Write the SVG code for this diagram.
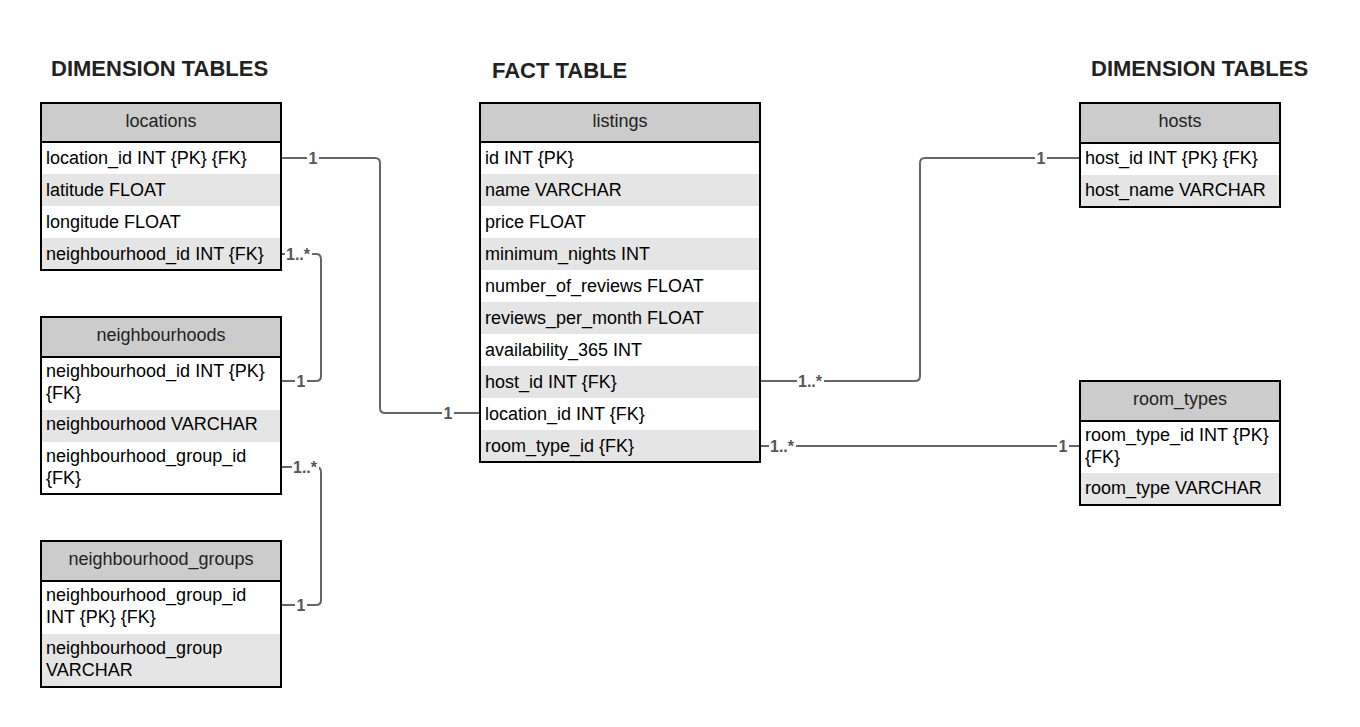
<svg xmlns="http://www.w3.org/2000/svg" width="1360" height="727" viewBox="0 0 1360 727">
<style>
.bg{fill:#fff}
.hd{fill:#cccccc}
.alt{fill:#e5e5e5}
.frame{fill:none;stroke:#000;stroke-width:2}
.sep{stroke:#000;stroke-width:2}
.t{font-family:"Liberation Sans",Arial,sans-serif;font-size:18px;fill:#000}
.h{font-family:"Liberation Sans",Arial,sans-serif;font-size:18px;fill:#222;text-anchor:middle}
.title{font-family:"Liberation Sans",Arial,sans-serif;font-size:22px;font-weight:bold;fill:#222}
.ln{fill:none;stroke:#666;stroke-width:2}
.lbg{fill:#fff}
.lb{font-family:"Liberation Sans",Arial,sans-serif;font-size:16px;font-weight:bold;fill:#555;text-anchor:middle}
</style>
<rect width="1360" height="727" fill="#fff"/>
<text class="title" x="51" y="76">DIMENSION TABLES</text>
<text class="title" x="492" y="78">FACT TABLE</text>
<text class="title" x="1091" y="76">DIMENSION TABLES</text>

<g id="connectors">
<path class="ln" d="M281 158 H375 Q380 158 380 163 V408 Q380 413 385 413 H479"/>
<path class="ln" d="M281 254 H316 Q321 254 321 259 V376 Q321 381 316 381 H281"/>
<path class="ln" d="M281 467 H316 Q321 467 321 472 V600 Q321 605 316 605 H281"/>
<path class="ln" d="M760 381 H915 Q920 381 920 376 V163 Q920 158 925 158 H1079"/>
<path class="ln" d="M760 446 H1080"/>
<rect class="lbg" x="307" y="150" width="12" height="16"/>
<rect class="lbg" x="442" y="405" width="12" height="16"/>
<rect class="lbg" x="285" y="246" width="27" height="16"/>
<rect class="lbg" x="295" y="373" width="12" height="16"/>
<rect class="lbg" x="292" y="459" width="27" height="16"/>
<rect class="lbg" x="295" y="597" width="12" height="16"/>
<rect class="lbg" x="797" y="373" width="27" height="16"/>
<rect class="lbg" x="1035" y="150" width="12" height="16"/>
<rect class="lbg" x="769" y="438" width="27" height="16"/>
<rect class="lbg" x="1057" y="438" width="12" height="16"/>
<text class="lb" x="313" y="164">1</text>
<text class="lb" x="448" y="419">1</text>
<text class="lb" x="298" y="260">1..*</text>
<text class="lb" x="301" y="387">1</text>
<text class="lb" x="305" y="473">1..*</text>
<text class="lb" x="301" y="611">1</text>
<text class="lb" x="810" y="387">1..*</text>
<text class="lb" x="1041" y="164">1</text>
<text class="lb" x="782" y="452">1..*</text>
<text class="lb" x="1063" y="452">1</text>
</g>

<g id="locations">
<rect class="hd" x="41" y="103" width="240" height="39"/>
<rect class="bg" x="41" y="142" width="240" height="32"/>
<rect class="alt" x="41" y="174" width="240" height="32"/>
<rect class="bg" x="41" y="206" width="240" height="32"/>
<rect class="alt" x="41" y="238" width="240" height="32"/>
<line class="sep" x1="41" y1="142" x2="281" y2="142"/>
<rect class="frame" x="41" y="103" width="240" height="167"/>
<text class="h" x="161" y="127">locations</text>
<text class="t" x="46" y="164">location_id INT {PK} {FK}</text>
<text class="t" x="46" y="196">latitude FLOAT</text>
<text class="t" x="46" y="228">longitude FLOAT</text>
<text class="t" x="46" y="260">neighbourhood_id INT {FK}</text>
</g>

<g id="neighbourhoods">
<rect class="hd" x="41" y="317" width="240" height="40"/>
<rect class="bg" x="41" y="357" width="240" height="53"/>
<rect class="alt" x="41" y="410" width="240" height="32"/>
<rect class="bg" x="41" y="442" width="240" height="52"/>
<line class="sep" x1="41" y1="357" x2="281" y2="357"/>
<rect class="frame" x="41" y="317" width="240" height="177"/>
<text class="h" x="161" y="341">neighbourhoods</text>
<text class="t" x="46" y="377">neighbourhood_id INT {PK}</text>
<text class="t" x="46" y="399">{FK}</text>
<text class="t" x="46" y="430">neighbourhood VARCHAR</text>
<text class="t" x="46" y="462">neighbourhood_group_id</text>
<text class="t" x="46" y="484">{FK}</text>
</g>

<g id="neighbourhood_groups">
<rect class="hd" x="41" y="541" width="240" height="40"/>
<rect class="bg" x="41" y="581" width="240" height="53"/>
<rect class="alt" x="41" y="634" width="240" height="53"/>
<line class="sep" x1="41" y1="581" x2="281" y2="581"/>
<rect class="frame" x="41" y="541" width="240" height="146"/>
<text class="h" x="161" y="565">neighbourhood_groups</text>
<text class="t" x="46" y="601">neighbourhood_group_id</text>
<text class="t" x="46" y="623">INT {PK} {FK}</text>
<text class="t" x="46" y="654">neighbourhood_group</text>
<text class="t" x="46" y="676">VARCHAR</text>
</g>

<g id="listings">
<rect class="hd" x="480" y="103" width="280" height="39"/>
<rect class="bg" x="480" y="142" width="280" height="32"/>
<rect class="alt" x="480" y="174" width="280" height="32"/>
<rect class="bg" x="480" y="206" width="280" height="32"/>
<rect class="alt" x="480" y="238" width="280" height="32"/>
<rect class="bg" x="480" y="270" width="280" height="32"/>
<rect class="alt" x="480" y="302" width="280" height="32"/>
<rect class="bg" x="480" y="334" width="280" height="32"/>
<rect class="alt" x="480" y="366" width="280" height="32"/>
<rect class="bg" x="480" y="398" width="280" height="32"/>
<rect class="alt" x="480" y="430" width="280" height="32"/>
<line class="sep" x1="480" y1="142" x2="760" y2="142"/>
<rect class="frame" x="480" y="103" width="280" height="359"/>
<text class="h" x="620" y="127">listings</text>
<text class="t" x="485" y="164">id INT {PK}</text>
<text class="t" x="485" y="196">name VARCHAR</text>
<text class="t" x="485" y="228">price FLOAT</text>
<text class="t" x="485" y="260">minimum_nights INT</text>
<text class="t" x="485" y="292">number_of_reviews FLOAT</text>
<text class="t" x="485" y="324">reviews_per_month FLOAT</text>
<text class="t" x="485" y="356">availability_365 INT</text>
<text class="t" x="485" y="388">host_id INT {FK}</text>
<text class="t" x="485" y="420">location_id INT {FK}</text>
<text class="t" x="485" y="452">room_type_id {FK}</text>
</g>

<g id="hosts">
<rect class="hd" x="1080" y="103" width="200" height="40"/>
<rect class="bg" x="1080" y="143" width="200" height="32"/>
<rect class="alt" x="1080" y="175" width="200" height="32"/>
<line class="sep" x1="1080" y1="143" x2="1280" y2="143"/>
<rect class="frame" x="1080" y="103" width="200" height="104"/>
<text class="h" x="1180" y="127">hosts</text>
<text class="t" x="1085" y="164">host_id INT {PK} {FK}</text>
<text class="t" x="1085" y="196">host_name VARCHAR</text>
</g>

<g id="room_types">
<rect class="hd" x="1080" y="381" width="200" height="40"/>
<rect class="bg" x="1080" y="421" width="200" height="52"/>
<rect class="alt" x="1080" y="473" width="200" height="32"/>
<line class="sep" x1="1080" y1="421" x2="1280" y2="421"/>
<rect class="frame" x="1080" y="381" width="200" height="124"/>
<text class="h" x="1180" y="405">room_types</text>
<text class="t" x="1085" y="441">room_type_id INT {PK}</text>
<text class="t" x="1085" y="463">{FK}</text>
<text class="t" x="1085" y="494">room_type VARCHAR</text>
</g>
</svg>
